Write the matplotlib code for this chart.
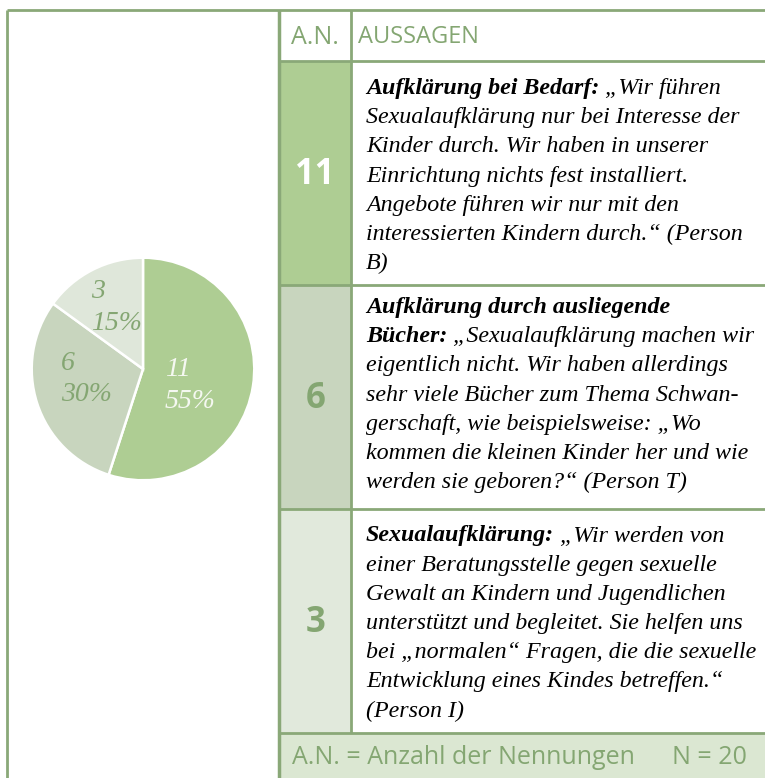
import matplotlib
matplotlib.use("Agg")
import matplotlib.pyplot as plt
from matplotlib.patches import Rectangle
import numpy as np

# ---------------- data ----------------
counts = [11, 6, 3]
percents = [55, 30, 15]
categories = ["Aufklärung bei Bedarf", "Aufklärung durch ausliegende Bücher", "Sexualaufklärung"]
header_labels = ["A.N.", "AUSSAGEN"]
footer_left = "A.N. = Anzahl der Nennungen"
footer_right = "N = 20"

# statement lines: list of segments (style, text); 'b' = bold italic, 'i' = italic
statements = [
    [
        [("b", "Aufklärung bei Bedarf:"), ("i", " „Wir führen")],
        [("i", "Sexualaufklärung nur bei Interesse der")],
        [("i", "Kinder durch. Wir haben in unserer")],
        [("i", "Einrichtung nichts fest installiert.")],
        [("i", "Angebote führen wir nur mit den")],
        [("i", "interessierten Kindern durch.“ (Person")],
        [("i", "B)")],
    ],
    [
        [("b", "Aufklärung durch ausliegende")],
        [("b", "Bücher:"), ("i", " „Sexualaufklärung machen wir")],
        [("i", "eigentlich nicht. Wir haben allerdings")],
        [("i", "sehr viele Bücher zum Thema Schwan-")],
        [("i", "gerschaft, wie beispielsweise: „Wo")],
        [("i", "kommen die kleinen Kinder her und wie")],
        [("i", "werden sie geboren?“ (Person T)")],
    ],
    [
        [("b", "Sexualaufklärung:"), ("i", " „Wir werden von")],
        [("i", "einer Beratungsstelle gegen sexuelle")],
        [("i", "Gewalt an Kindern und Jugendlichen")],
        [("i", "unterstützt und begleitet. Sie helfen uns")],
        [("i", "bei „normalen“ Fragen, die die sexuelle")],
        [("i", "Entwicklung eines Kindes betreffen.“")],
        [("i", "(Person I)")],
    ],
]

# ---------------- style ----------------
W, H = 765, 778
LINE = "#8aa878"
GREEN_TXT = "#84a672"
slice_colors = ["#aecd93", "#c8d5be", "#dfe7da"]
an_fill = ["#aecd93", "#c8d5be", "#e1e9dc"]
an_txt = ["#ffffff", "#84a672", "#84a672"]
pie_lbl_colors = ["#f5f8f1", "#84a672", "#84a672"]
FOOTER_FILL = "#dbe7d2"
SERIF = "Liberation Serif"
SANS = "Open Sans"

fig = plt.figure(figsize=(W / 100, H / 100), dpi=100)
ax = fig.add_axes([0, 0, 1, 1])
ax.set_xlim(0, W)
ax.set_ylim(H, 0)
ax.axis("off")

# layout
x_left, x_div, x_an, x_right = 7, 279.5, 351, W
y_top = 10
row_bounds = [61, 284.5, 508.5, 732.5]
y_bottom = H

# footer fill
ax.add_patch(Rectangle((x_div, row_bounds[-1]), x_right - x_div, y_bottom - row_bounds[-1],
                       facecolor=FOOTER_FILL, edgecolor="none", zorder=1))
# A.N. cell fills
for i in range(3):
    ax.add_patch(Rectangle((x_div, row_bounds[i]), x_an - x_div, row_bounds[i + 1] - row_bounds[i],
                           facecolor=an_fill[i], edgecolor="none", zorder=1))

lw = 2.0
# borders
ax.plot([x_left, x_right], [y_top, y_top], color=LINE, lw=lw, zorder=3, solid_capstyle="butt")
ax.plot([x_left, x_left], [y_top, y_bottom], color=LINE, lw=lw, zorder=3, solid_capstyle="butt")
ax.plot([x_div, x_div], [y_top, y_bottom], color=LINE, lw=lw + 0.5, zorder=3, solid_capstyle="butt")
ax.plot([x_an, x_an], [y_top, row_bounds[-1]], color=LINE, lw=lw, zorder=3, solid_capstyle="butt")
for yb in row_bounds:
    ax.plot([x_div, x_right], [yb, yb], color=LINE, lw=lw, zorder=3, solid_capstyle="butt")

# header
ax.text((x_div + x_an) / 2, 37, header_labels[0], fontsize=18, family=SANS, color=GREEN_TXT,
        ha="center", va="center", zorder=4)
ax.text(x_an + 7, 37, header_labels[1], fontsize=17, family=SANS, color=GREEN_TXT,
        ha="left", va="center", zorder=4)

# count numbers in A.N. column
for i, c in enumerate(counts):
    yc = (row_bounds[i] + row_bounds[i + 1]) / 2 + 2
    ax.text((x_div + x_an) / 2, yc, str(c), fontsize=25, family=SANS, fontweight="bold",
            color=an_txt[i], ha="center", va="center", zorder=4)

# statements
fig.canvas.draw()
renderer = fig.canvas.get_renderer()
first_baselines = [94, 313, 541.5]
line_step = 29.2
FS = 17.3
for r, lines in enumerate(statements):
    for k, segs in enumerate(lines):
        x = x_an + 15
        y = first_baselines[r] + k * line_step
        for style, txt in segs:
            t = ax.text(x, y, txt, fontsize=FS, family=SERIF, fontstyle="italic",
                        fontweight="bold" if style == "b" else "normal",
                        color="black", ha="left", va="baseline", zorder=4)
            bb = t.get_window_extent(renderer)
            x += bb.width

# footer
ax.text(x_div + 13, 758, footer_left, fontsize=18, family=SANS, color=GREEN_TXT,
        ha="left", va="center", zorder=4)
ax.text(x_right - 18, 758, footer_right, fontsize=18, family=SANS, color=GREEN_TXT,
        ha="right", va="center", zorder=4)

# ---------------- pie ----------------
cx, cy, R = 143, 369, 113.5
pax = fig.add_axes([(cx - R) / W, 1 - (cy + R) / H, 2 * R / W, 2 * R / H])
wedges, _ = pax.pie(counts, colors=slice_colors, startangle=90, counterclock=False,
                    wedgeprops=dict(edgecolor="white", linewidth=1.8), radius=1.0)
pax.set_xlim(-1.02, 1.02)
pax.set_ylim(-1.02, 1.02)
pax.set_aspect("equal")
pax.axis("off")

label_r = [0.45, 0.52, 0.6]
label_shift = [-10, -8, -4]
for i, w in enumerate(wedges):
    mid = np.deg2rad((w.theta1 + w.theta2) / 2 + label_shift[i])
    pax.text(label_r[i] * np.cos(mid), label_r[i] * np.sin(mid),
             f"{counts[i]}\n{percents[i]}%", fontsize=20, family=SERIF, fontstyle="italic",
             color=pie_lbl_colors[i], ha="center", va="center", multialignment="left",
             linespacing=1.35)

fig.savefig("out.png", dpi=100)
